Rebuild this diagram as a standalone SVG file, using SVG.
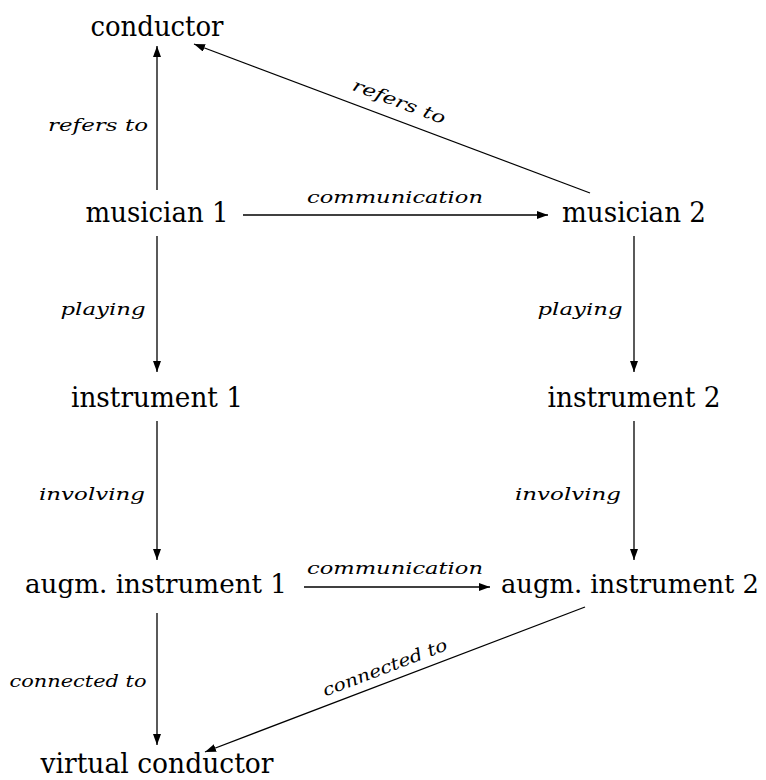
<svg xmlns="http://www.w3.org/2000/svg" width="766" height="780" viewBox="0 0 766 780">
<style>
.n{font-family:'DejaVu Serif','Liberation Serif',serif;font-size:28px;fill:#000;text-anchor:middle}
.a{font-size:26px}
.l{font-family:'DejaVu Serif','Liberation Serif',serif;font-style:italic;font-size:17px;fill:#000;text-anchor:middle}
.e{stroke:#000;stroke-width:1.3;fill:none;marker-end:url(#ah)}
</style>
<defs>
<marker id="ah" viewBox="0 0 11 8" refX="11" refY="4" markerWidth="11" markerHeight="8" markerUnits="userSpaceOnUse" orient="auto">
<path d="M0,0 L11,4 L0,8 Z" fill="#000"/>
</marker>
</defs>
<rect width="766" height="780" fill="#fff"/>
<g id="connectors">
<line class="e" x1="157" y1="190" x2="157" y2="46"/>
<line class="e" x1="590" y1="193" x2="194" y2="44"/>
<line class="e" x1="243" y1="215" x2="548" y2="215"/>
<line class="e" x1="157" y1="236" x2="157" y2="372"/>
<line class="e" x1="634" y1="236" x2="634" y2="372"/>
<line class="e" x1="157" y1="421" x2="157" y2="560"/>
<line class="e" x1="634" y1="421" x2="634" y2="560"/>
<line class="e" x1="304" y1="587" x2="490" y2="587"/>
<line class="e" x1="157" y1="613" x2="157" y2="745"/>
<line class="e" x1="585" y1="607" x2="205" y2="752"/>
<text class="l" x="98" y="131" textLength="100" lengthAdjust="spacingAndGlyphs">refers to</text>
<text class="l" transform="translate(397,107) rotate(20.6)" textLength="98" lengthAdjust="spacingAndGlyphs">refers to</text>
<text class="l" x="395" y="203" textLength="176" lengthAdjust="spacingAndGlyphs">communication</text>
<text class="l" x="103" y="315" textLength="85" lengthAdjust="spacingAndGlyphs">playing</text>
<text class="l" x="580" y="315" textLength="85" lengthAdjust="spacingAndGlyphs">playing</text>
<text class="l" x="92" y="500" textLength="106" lengthAdjust="spacingAndGlyphs">involving</text>
<text class="l" x="568" y="500" textLength="106" lengthAdjust="spacingAndGlyphs">involving</text>
<text class="l" x="395" y="574" textLength="176" lengthAdjust="spacingAndGlyphs">communication</text>
<text class="l" x="78" y="687" textLength="137" lengthAdjust="spacingAndGlyphs">connected to</text>
<text class="l" transform="translate(387,673) rotate(-20.9)" textLength="132" lengthAdjust="spacingAndGlyphs">connected to</text>
</g>
<g id="conductor"><text class="n" x="157" y="36" textLength="133" lengthAdjust="spacingAndGlyphs">conductor</text></g>
<g id="musician1"><text class="n" x="157" y="222" textLength="143" lengthAdjust="spacingAndGlyphs">musician 1</text></g>
<g id="musician2"><text class="n" x="634" y="222" textLength="144" lengthAdjust="spacingAndGlyphs">musician 2</text></g>
<g id="instrument1"><text class="n" x="157" y="407" textLength="172" lengthAdjust="spacingAndGlyphs">instrument 1</text></g>
<g id="instrument2"><text class="n" x="634" y="407" textLength="173" lengthAdjust="spacingAndGlyphs">instrument 2</text></g>
<g id="augm1"><text class="n a" x="156" y="593" textLength="262" lengthAdjust="spacingAndGlyphs">augm. instrument 1</text></g>
<g id="augm2"><text class="n a" x="630" y="593" textLength="258" lengthAdjust="spacingAndGlyphs">augm. instrument 2</text></g>
<g id="virtual"><text class="n" x="157" y="773" textLength="233" lengthAdjust="spacingAndGlyphs">virtual conductor</text></g>
</svg>
